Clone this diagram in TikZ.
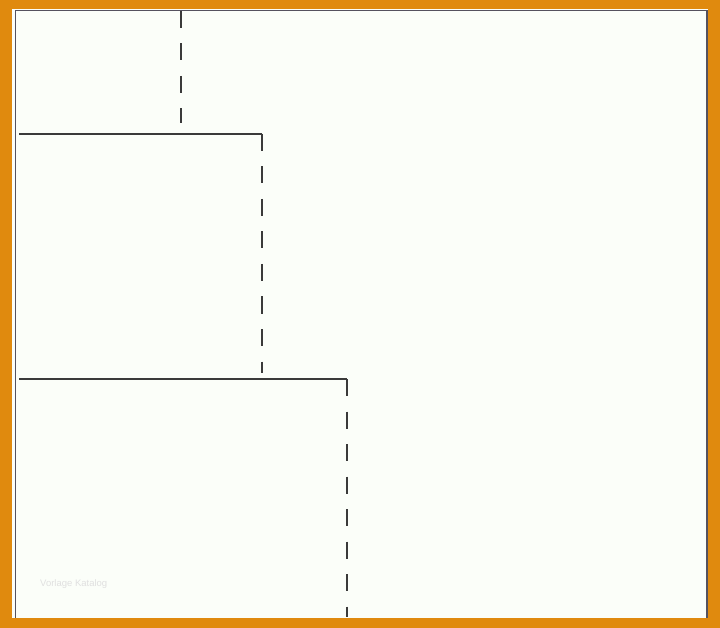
\documentclass[tikz,border=0pt]{standalone}
\usepackage{fontspec}
\setmainfont{Liberation Sans}
\usepackage{tikz}
\usetikzlibrary{positioning}

\definecolor{frameorange}{HTML}{E08A0E}
\definecolor{paper}{HTML}{FBFEF9}
\definecolor{inkgray}{HTML}{3A3A3A}
\definecolor{edgegray}{HTML}{55525E}

\tikzset{
    solidline/.style={draw=inkgray, line width=1.5pt},
    dashline/.style={draw=inkgray, line width=1.6pt, dash pattern=on 17pt off 15.5pt},
}

\begin{document}
\begin{tikzpicture}[x=1pt, y=-1pt]
        \useasboundingbox (0,0) rectangle (720,628);
        \fill[frameorange] (0,0) rectangle (720,628);
        \fill[paper] (12,9) rectangle (708,618);
        \draw[edgegray, line width=1.5pt] (15.5,618) -- (15.5,10.5) -- (707,10.5) -- (707,618);
        % steps
        \coordinate (TopA) at (181,11);
        \coordinate (BotA) at (181,123);
        \coordinate (LeftB) at (19,134);
        \coordinate (CornerB) at (262,134);
        \coordinate (BotB) at (262,373);
        \coordinate (LeftC) at (19,379);
        \coordinate (CornerC) at (347,379);
        \coordinate (BotC) at (347,617);
        \draw[dashline] (TopA) -- (BotA);
        \draw[solidline] (LeftB) -- (CornerB);
        \draw[dashline] (CornerB) -- (BotB);
        \draw[solidline] (LeftC) -- (CornerC);
        \draw[dashline] (CornerC) -- (BotC);
        \node[text=black!12, font=\fontsize{9.5}{11}\selectfont, anchor=west, inner sep=0pt] (Mark) at (40,584) {Vorlage Katalog};
    \end{tikzpicture}
\end{document}
